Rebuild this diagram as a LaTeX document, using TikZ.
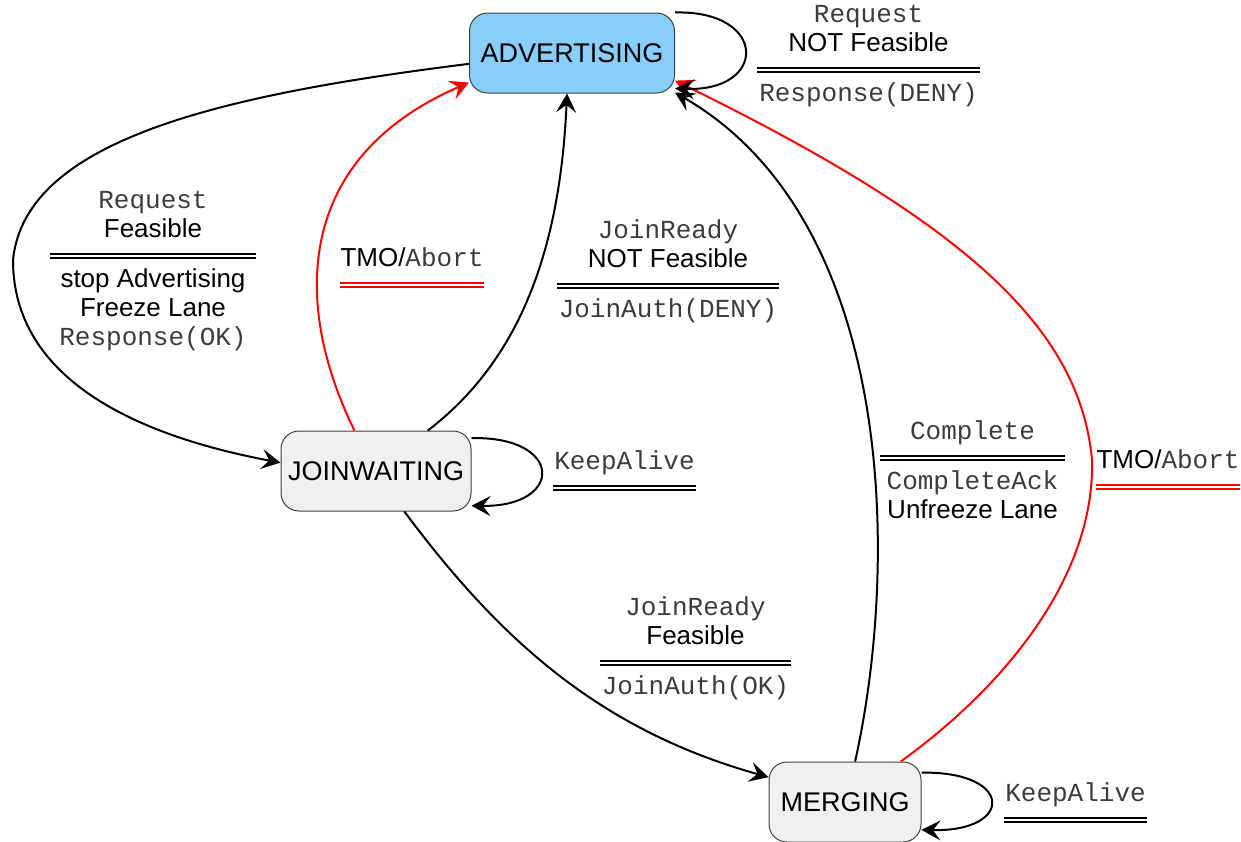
\documentclass[tikz,border=0pt]{standalone}
\usepackage{fontspec}
\setmainfont{Liberation Sans}
\setmonofont{Liberation Mono}
\usepackage{xcolor}
\usepackage{tikz}
\usetikzlibrary{arrows.meta}

\definecolor{advblue}{RGB}{135,206,250}
\definecolor{stategray}{RGB}{240,240,240}
\definecolor{msggray}{RGB}{60,60,60}
\newcommand{\msgtxt}[1]{{\ttfamily\color{msggray}#1}}

\begin{document}
\begin{tikzpicture}[x=0.5pt, y=-0.5pt, font=\fontsize{13}{14.5}\selectfont,
  phase/.style={draw=black!75, line width=0.5pt, rounded corners=9pt,
    minimum width=#1, minimum height=40pt, inner sep=0pt,
    font=\fontsize{13.5}{15}\selectfont},
  trans/.style={line width=1pt, -{Stealth[length=9.5pt, width=10pt, inset=3.8pt]}},
  abort/.style={trans, draw=red},
  guard/.style={double=white, double distance=1.2pt, line width=0.8pt},
  upper/.style={anchor=south, align=center, inner sep=0pt, yshift=4.6pt},
  lower/.style={anchor=north, align=center, inner sep=0pt, yshift=-5.4pt}]
  \useasboundingbox (0,0) rectangle (1241,841);

  % states
  \node[phase=102.5pt, fill=advblue] (adv) at (572,53) {ADVERTISING};
  \node[phase=95pt, fill=stategray] (jw) at (376,471) {JOINWAITING};
  \node[phase=76pt, fill=stategray] (mer) at (845,802) {MERGING};

  % transitions
  \draw[trans] (adv.186) .. controls (220,95) and (25,140) .. (13,260)
    .. controls (13,390) and (160,440) .. (jw.175);
  \draw[abort] (jw.118) .. controls (295,310) and (290,160) .. (adv.196);
  \draw[trans] (jw.38) .. controls (520,360) and (560,250) .. (adv.263);
  \draw[trans] (jw.-55) .. controls (500,640) and (600,730) .. (mer.162);
  \draw[trans] (mer.76) .. controls (900,560) and (895,220) .. (adv.-21);
  \draw[abort] (mer.36) .. controls (1000,690) and (1095,580) .. (1092,460)
    .. controls (1080,330) and (970,225) .. (adv.-15);

  \draw[trans] (adv.north east) .. controls (768,10) and (768,92) .. (adv.-19);
  \draw[trans] (jw.19) .. controls (564,436) and (564,507) .. (jw.-20);
  \draw[trans] (mer.21) .. controls (1014,771) and (1014,832) .. (mer.-20);

  % guard / action labels
  \def\drawGuard#1#2#3#4#5#6#7{
    \coordinate (#1) at ({(#2+#3)/2},#4);
    \draw[guard, draw=#5] (#2,#4) -- (#3,#4);
    \node[upper] (#1-up) at (#1) {#6\strut};
    \node[lower] (#1-lo) at (#1) {\strut#7};
  }

  \drawGuard{reqno}{757}{980}{70}{black}{\msgtxt{Request}\\NOT Feasible}{\msgtxt{Response(DENY)}}
  \drawGuard{reqok}{50}{256}{256}{black}{\msgtxt{Request}\\Feasible}{stop Advertising\\Freeze Lane\\\msgtxt{Response(OK)}}
  \drawGuard{jwtmo}{340}{484}{285}{red}{TMO/\msgtxt{Abort}}{}
  \drawGuard{joinno}{557}{779}{286}{black}{\msgtxt{JoinReady}\\NOT Feasible}{\msgtxt{JoinAuth(DENY)}}
  \drawGuard{jwalive}{553}{696}{488}{black}{\msgtxt{KeepAlive}}{}
  \drawGuard{joinok}{600}{791}{663}{black}{\msgtxt{JoinReady}\\Feasible}{\msgtxt{JoinAuth(OK)}}
  \drawGuard{done}{880}{1065}{458}{black}{\msgtxt{Complete}}{\msgtxt{CompleteAck}\\Unfreeze Lane}
  \drawGuard{mertmo}{1096}{1240}{487}{red}{TMO/\msgtxt{Abort}}{}
  \drawGuard{meralive}{1004}{1147}{820}{black}{\msgtxt{KeepAlive}}{}
\end{tikzpicture}
\end{document}
